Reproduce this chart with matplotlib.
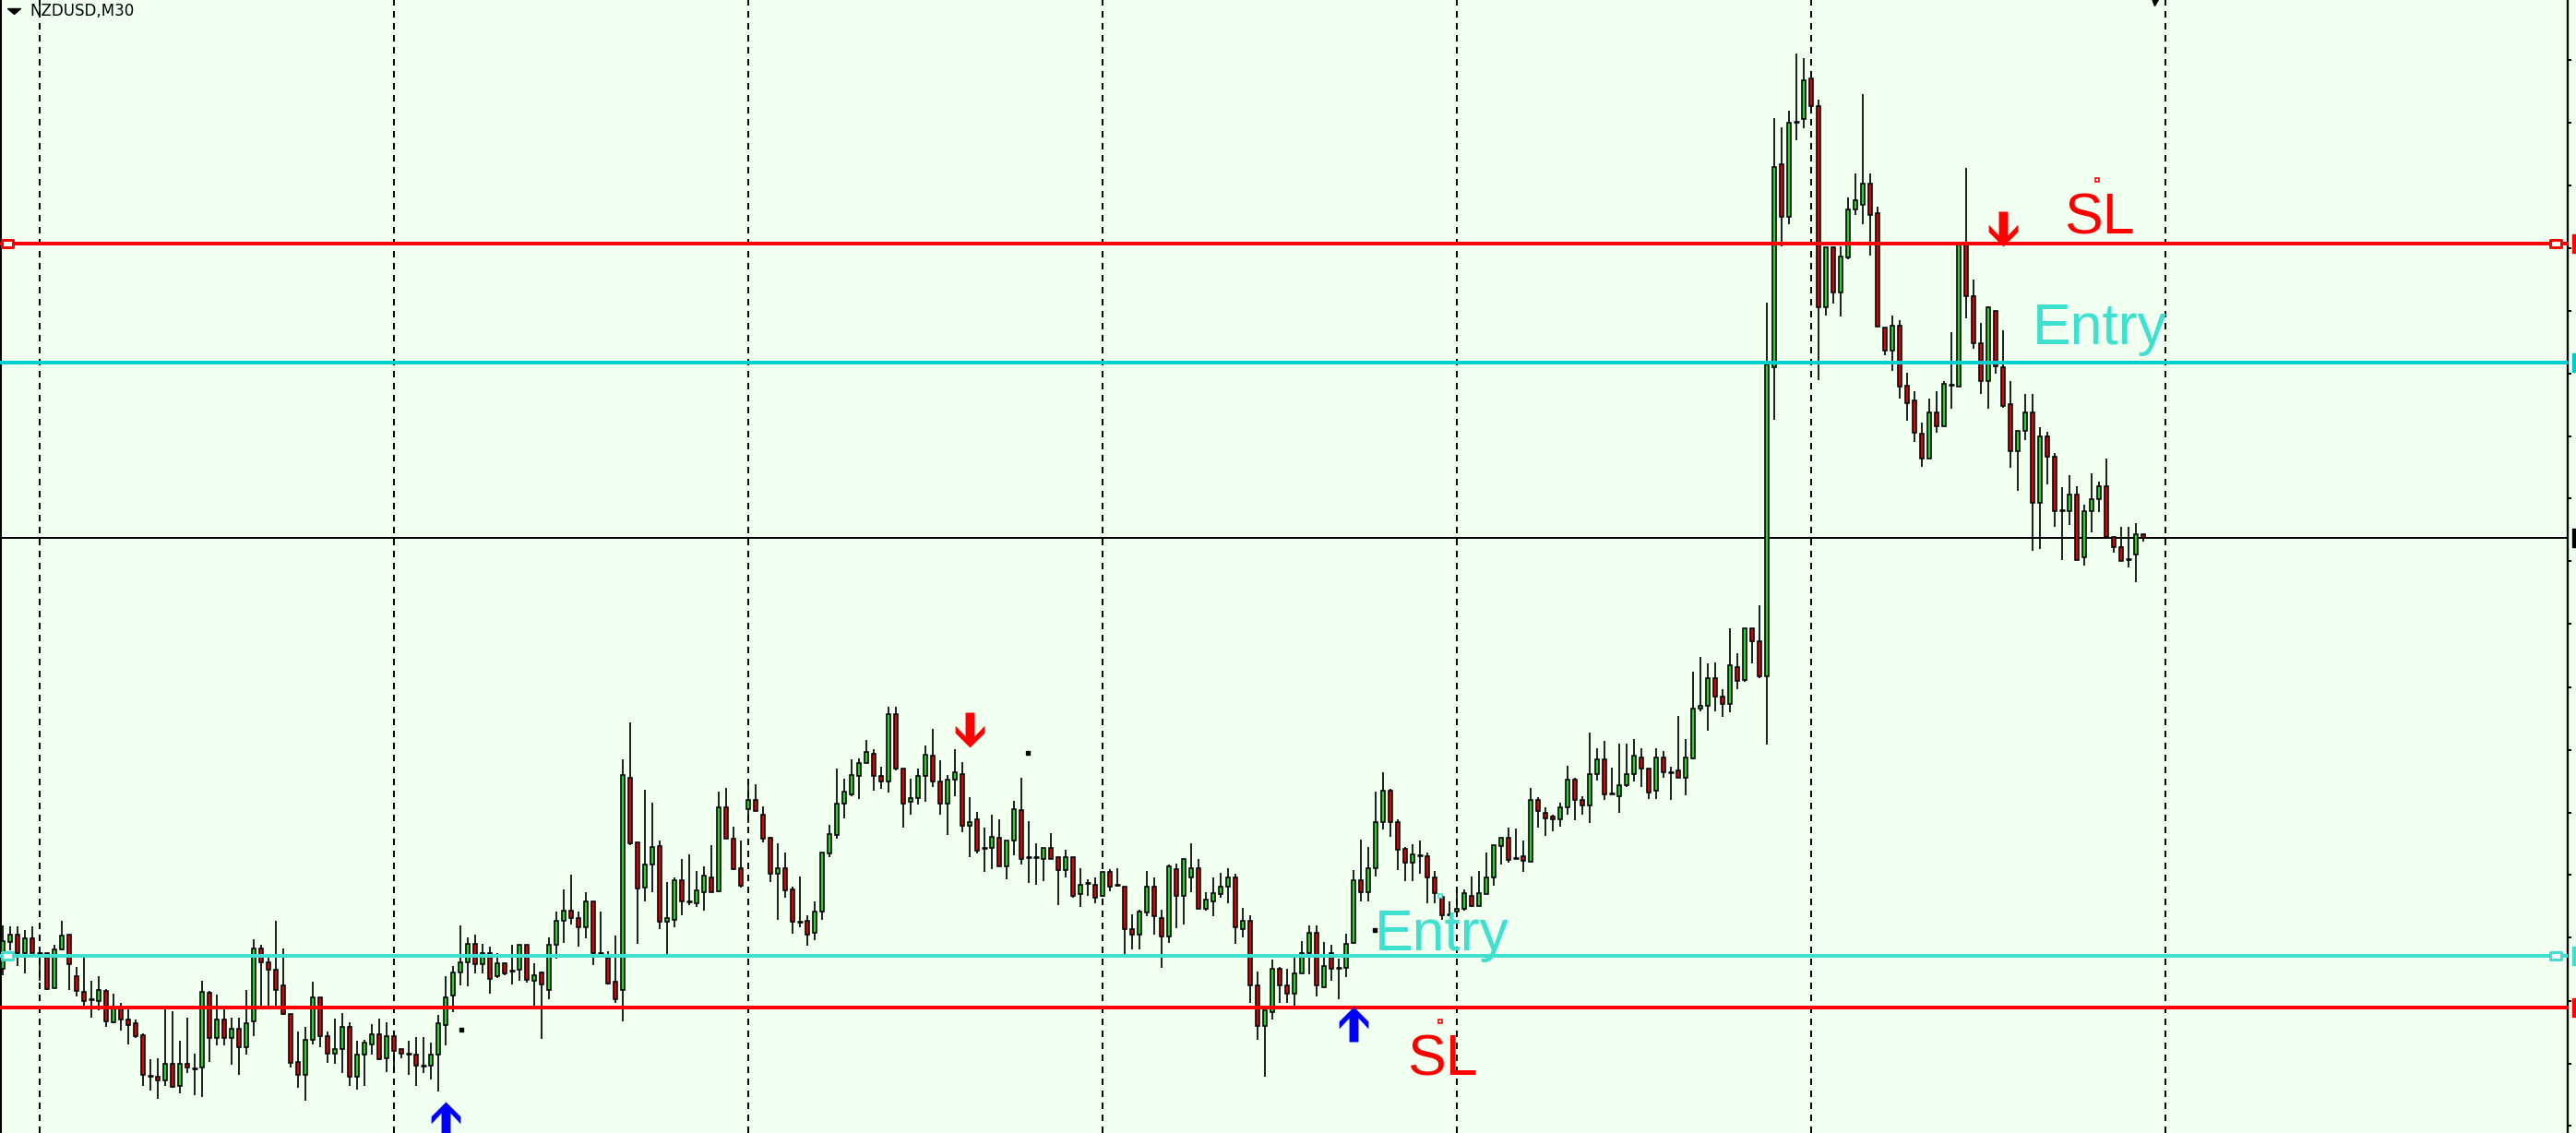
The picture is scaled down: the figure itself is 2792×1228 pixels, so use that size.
"""NZDUSD M30 candlestick chart with SL / Entry levels (MT4 style)."""

import matplotlib

matplotlib.use("Agg")

import matplotlib.pyplot as plt
import numpy as np
from matplotlib.patches import Rectangle
from matplotlib.path import Path

# prices are in points above an arbitrary base (the chart shows no price labels)
OPEN = [
    178, 207, 215, 195, 211, 195, 195, 157, 199, 215, 170, 153, 145, 143, 154, 120, 136, 123, 119, 106,
    62, 61, 57, 75, 51, 75, 70, 71, 152, 103, 123, 103, 113, 93, 121, 200, 185, 177, 160, 129,
    77, 63, 101, 147, 105, 86, 91, 115, 61, 85, 96, 107, 81, 105, 91, 86, 85, 73, 73, 85,
    117, 149, 174, 185, 205, 183, 195, 170, 184, 176, 177, 204, 165, 174, 155, 204, 230, 241, 233, 223,
    251, 195, 190, 164, 155, 385, 315, 266, 291, 311, 229, 231, 274, 251, 249, 261, 277, 262, 353, 319,
    287, 351, 361, 345, 320, 281, 287, 264, 229, 230, 217, 240, 303, 323, 357, 367, 387, 401, 411, 387,
    381, 454, 395, 359, 363, 387, 409, 381, 357, 383, 389, 333, 340, 309, 309, 320, 289, 317, 350, 299,
    299, 297, 309, 299, 285, 299, 259, 271, 269, 257, 283, 269, 267, 221, 215, 239, 267, 233, 213, 286,
    257, 277, 287, 243, 251, 259, 267, 277, 221, 230, 160, 116, 131, 178, 160, 151, 173, 195, 217, 158,
    195, 179, 179, 206, 274, 261, 287, 337, 371, 337, 308, 293, 301, 300, 277, 256, 237, 240, 243, 257,
    246, 259, 277, 311, 320, 298, 300, 294, 361, 347, 343, 340, 353, 383, 361, 355, 389, 405, 368, 365,
    377, 389, 407, 395, 371, 407, 391, 393, 385, 406, 460, 463, 493, 473, 465, 505, 491, 547, 533, 495,
    830, 1050, 993, 1096, 1099, 1143, 1113, 895, 960, 911, 949, 1001, 1006, 1029, 997, 873, 848, 875, 810, 794,
    758, 731, 781, 766, 811, 809, 965, 907, 856, 815, 891, 830, 790, 739, 761, 781, 683, 755, 733, 675,
    674, 692, 624, 674, 687, 701, 646, 635, 622, 627, 649,
]
HIGH = [
    225, 224, 224, 220, 224, 198, 195, 204, 230, 215, 180, 190, 165, 170, 156, 151, 141, 134, 123, 108,
    80, 81, 134, 132, 100, 125, 86, 165, 154, 150, 134, 125, 125, 155, 210, 204, 190, 230, 200, 129,
    110, 115, 164, 147, 110, 124, 130, 120, 100, 101, 118, 124, 120, 105, 91, 100, 104, 104, 98, 128,
    170, 181, 225, 212, 215, 205, 202, 195, 184, 204, 204, 204, 184, 175, 212, 240, 264, 280, 240, 261,
    251, 240, 197, 214, 405, 445, 315, 372, 358, 317, 272, 277, 297, 302, 284, 289, 312, 370, 374, 332,
    317, 381, 378, 354, 321, 314, 304, 267, 278, 236, 251, 304, 334, 395, 384, 405, 406, 426, 416, 397,
    462, 462, 395, 384, 395, 420, 438, 404, 388, 416, 402, 364, 348, 331, 345, 340, 317, 360, 385, 338,
    314, 309, 325, 299, 307, 299, 287, 275, 277, 283, 286, 287, 267, 237, 242, 284, 277, 242, 291, 292,
    297, 314, 297, 261, 277, 282, 287, 281, 244, 236, 175, 133, 188, 180, 178, 190, 208, 225, 225, 207,
    204, 189, 216, 285, 318, 310, 370, 391, 373, 340, 310, 313, 317, 304, 284, 258, 251, 261, 264, 278,
    284, 304, 312, 320, 331, 330, 317, 374, 364, 353, 345, 358, 398, 385, 365, 434, 417, 425, 396, 422,
    422, 427, 417, 395, 417, 414, 397, 452, 427, 500, 516, 509, 510, 481, 547, 520, 547, 547, 572, 900,
    1100, 1090, 1108, 1170, 1165, 1143, 1120, 960, 960, 961, 1014, 1040, 1126, 1040, 1004, 873, 886, 881, 824, 804,
    770, 796, 804, 815, 868, 965, 1046, 925, 878, 896, 891, 870, 815, 761, 801, 801, 765, 760, 737, 700,
    713, 701, 681, 715, 706, 731, 646, 657, 657, 661, 649,
]
LOW = [
    171, 198, 181, 173, 195, 165, 155, 157, 198, 155, 148, 138, 125, 133, 115, 119, 111, 96, 103, 51,
    46, 37, 51, 49, 43, 65, 41, 39, 77, 95, 95, 74, 63, 85, 105, 138, 138, 138, 128, 71,
    49, 35, 96, 93, 76, 75, 65, 51, 47, 51, 85, 79, 66, 65, 81, 63, 51, 65, 58, 45,
    95, 131, 160, 159, 173, 173, 151, 168, 171, 161, 165, 163, 138, 102, 145, 189, 206, 226, 202, 211,
    182, 191, 161, 141, 121, 312, 205, 251, 261, 221, 194, 223, 236, 247, 245, 241, 261, 261, 319, 285,
    266, 336, 349, 315, 272, 231, 255, 216, 223, 203, 209, 231, 299, 319, 341, 365, 362, 401, 371, 373,
    369, 393, 331, 345, 356, 359, 375, 345, 323, 365, 326, 299, 303, 283, 286, 289, 275, 301, 291, 271,
    269, 273, 297, 247, 277, 255, 245, 257, 249, 256, 262, 267, 194, 199, 199, 235, 215, 179, 206, 222,
    226, 261, 243, 241, 235, 255, 249, 205, 212, 141, 101, 61, 123, 141, 141, 138, 173, 172, 148, 157,
    165, 145, 169, 205, 251, 251, 278, 329, 321, 285, 273, 273, 281, 249, 249, 231, 235, 240, 241, 245,
    246, 259, 268, 291, 293, 298, 283, 294, 331, 322, 327, 332, 345, 339, 345, 336, 382, 361, 367, 347,
    375, 381, 375, 362, 362, 385, 361, 385, 366, 405, 457, 436, 457, 451, 456, 481, 489, 509, 493, 421,
    773, 961, 985, 1076, 1089, 1110, 816, 886, 899, 885, 947, 995, 985, 951, 874, 843, 826, 796, 772, 749,
    722, 731, 759, 766, 785, 809, 883, 850, 801, 785, 823, 786, 721, 696, 751, 631, 633, 703, 657, 621,
    659, 621, 615, 651, 673, 646, 629, 620, 613, 597, 641,
]
CLOSE = [
    208, 215, 195, 211, 195, 195, 156, 199, 214, 183, 154, 143, 145, 155, 121, 136, 123, 117, 105, 63,
    62, 57, 75, 50, 75, 71, 70, 153, 103, 123, 103, 113, 93, 119, 200, 185, 177, 155, 129, 76,
    63, 101, 147, 105, 86, 91, 115, 61, 85, 98, 107, 80, 105, 89, 86, 86, 73, 73, 85, 119,
    147, 174, 185, 205, 183, 195, 167, 184, 173, 176, 204, 166, 171, 161, 204, 230, 241, 233, 223, 251,
    195, 195, 162, 145, 388, 314, 265, 291, 310, 229, 233, 274, 251, 251, 263, 279, 261, 353, 319, 286,
    268, 361, 349, 319, 281, 287, 263, 229, 229, 215, 240, 304, 324, 357, 370, 388, 401, 413, 387, 381,
    454, 395, 357, 363, 387, 410, 381, 357, 383, 391, 333, 337, 306, 309, 321, 289, 317, 351, 297, 299,
    299, 309, 297, 285, 299, 257, 269, 271, 255, 283, 267, 269, 221, 215, 240, 267, 235, 213, 289, 257,
    297, 287, 243, 253, 260, 267, 277, 223, 230, 160, 116, 133, 178, 160, 151, 173, 195, 217, 160, 181,
    178, 179, 205, 274, 261, 287, 337, 371, 337, 307, 293, 302, 301, 277, 260, 236, 237, 243, 260, 246,
    260, 277, 312, 320, 296, 298, 295, 361, 349, 341, 340, 353, 383, 361, 355, 389, 405, 367, 368, 377,
    389, 409, 395, 369, 407, 391, 391, 385, 407, 460, 463, 493, 473, 465, 507, 490, 547, 533, 495, 833,
    1047, 993, 1095, 1096, 1141, 1113, 895, 960, 911, 950, 1001, 1011, 1029, 995, 874, 848, 875, 809, 791, 759,
    731, 781, 766, 812, 811, 965, 907, 856, 815, 895, 831, 788, 739, 761, 781, 683, 755, 733, 674, 675,
    692, 621, 674, 687, 701, 646, 635, 620, 622, 649, 645,
]

# bar index where each new trading day starts (dashed separators)
DAY_STARTS = [5, 53, 101, 149, 197, 245, 293]

# horizontal levels: upper SL, upper Entry, current price, lower Entry, lower SL
LEVELS = [964, 835, 645, 192, 136]
LEVEL_COLORS = ["#FF0000", "#00CED1", "#000000", "#40E0D0", "#FF0000"]
LEVEL_SELECTED = [True, False, False, True, False]

# text objects
LABELS = ["SL", "Entry", "Entry", "SL"]
LABEL_X = [284.0, 284.1, 195.0, 195.0]
LABEL_Y = [975, 855, 198, 63]
LABEL_COLORS = ["#FF0000", "#40E0D0", "#40E0D0", "#FF0000"]
ANCHOR_X = [283.75, 194.75, 194.75]
ANCHOR_Y = [1033, 257, 121]
ANCHOR_COLORS = ["#FF0000", "#40E0D0", "#FF0000"]

# signal arrows
ARROW_X = [60, 183, 131, 271]
ARROW_Y = [15, 118, 437, 980]
ARROW_UP = [True, True, False, False]
ARROW_COLORS = ["#0000FF", "#0000FF", "#FF0000", "#FF0000"]

# stray object anchor dots
DOT_X = [62.1, 138.9, 185.9]
DOT_Y = [112, 412, 220]

# right price-scale ticks
TICK_LEVELS = [1163, 1095, 1027, 959, 891, 823, 755, 688, 620, 552, 483, 415, 347, 280, 212, 143, 75, 8]

BG = "#F0FFF0"
BULL = "#22D822"
BEAR = "#E00000"
PX = 72 / 100  # points per pixel at dpi 100
W, H = 2792, 1228
PLOT_W = 2783
BAR_PX = 8


def arrow_path(up: bool) -> Path:
    verts = [(-15, 57.5), (15, 57.5), (15, -20.5), (48, 14.5), (48, -9.5), (0, -57.5),
             (-48, -9.5), (-48, 14.5), (-15, -20.5), (-15, 57.5)]
    if up:
        verts = [(x, -y) for x, y in verts]
    codes = [Path.MOVETO] + [Path.LINETO] * (len(verts) - 2) + [Path.CLOSEPOLY]
    return Path(verts, codes)


def main() -> None:
    fig = plt.figure(figsize=(W / 100, H / 100), dpi=100, facecolor=BG)
    ax = fig.add_axes([0, 0, PLOT_W / W, 1], facecolor=BG)

    o, h, l, c = (np.array(v, dtype=float) for v in (OPEN, HIGH, LOW, CLOSE))
    idx = np.arange(len(o))

    for d in DAY_STARTS:
        ax.axvline(d, color="black", lw=2 * PX, ls=(0, (3.5, 3.0)), zorder=1)

    for level, color, sel in zip(LEVELS, LEVEL_COLORS, LEVEL_SELECTED):
        black = color == "#000000"
        ax.axhline(level, color=color, lw=(2 if black else 4) * PX, zorder=1.5 if black else 4)
        ax.add_patch(Rectangle((1 + 5 / PLOT_W, level - 10), 4 / PLOT_W, 20,
                               transform=ax.get_yaxis_transform(), color=color, clip_on=False, zorder=5))
        if sel:
            rect = Path([(-6, -4), (6, -4), (6, 4), (-6, 4), (-6, -4)],
                        [Path.MOVETO, Path.LINETO, Path.LINETO, Path.LINETO, Path.CLOSEPOLY])
            ax.plot([0.003, 0.9955], [level, level], transform=ax.get_yaxis_transform(), ls="none",
                    marker=rect, ms=12 * PX, mfc="white", mec=color, mew=3 * PX, zorder=5, clip_on=False)

    ax.vlines(idx, l, h, color="black", lw=1.7 * PX, zorder=2)
    up = c > o
    dn = c < o
    flat = c == o
    ax.bar(idx[up], (c - o)[up], bottom=o[up], width=0.6, color=BULL, edgecolor="black",
           linewidth=1.6 * PX, zorder=3)
    ax.bar(idx[dn], (o - c)[dn], bottom=c[dn], width=0.6, color=BEAR, edgecolor="black",
           linewidth=1.6 * PX, zorder=3)
    ax.hlines(o[flat], idx[flat] - 0.38, idx[flat] + 0.38, color="black", lw=2.6 * PX, zorder=3)

    for x, y, is_up, color in zip(ARROW_X, ARROW_Y, ARROW_UP, ARROW_COLORS):
        ax.plot([x], [y], ls="none", marker=arrow_path(is_up), ms=38 * PX, color=color,
                mec=color, mew=0, zorder=6)

    for text, x, y, color in zip(LABELS, LABEL_X, LABEL_Y, LABEL_COLORS):
        ax.text(x, y, text, color=color, fontsize=45, family="Liberation Sans",
                ha="center", va="baseline", zorder=7)
    for x, y, color in zip(ANCHOR_X, ANCHOR_Y, ANCHOR_COLORS):
        ax.plot([x], [y], ls="none", marker="s", ms=5 * PX, mfc="white", mec=color,
                mew=1.6 * PX, zorder=7)

    ax.plot(DOT_X, DOT_Y, ls="none", marker="s", ms=3.5 * PX, color="black", zorder=6)

    # chart title and shift marker
    tri = Path([(-7, 3), (7, 3), (0, -3), (-7, 3)], [Path.MOVETO, Path.LINETO, Path.LINETO, Path.CLOSEPOLY])
    ax.plot([15 / PLOT_W], [1 - 12 / H], transform=ax.transAxes, ls="none", marker=tri,
            ms=14 * PX, color="black", zorder=8)
    ax.text(32 / PLOT_W, 1 - 17 / H, "NZDUSD,M30", transform=ax.transAxes, fontsize=12,
            family="DejaVu Sans", color="black", ha="left", va="baseline", zorder=8)
    ax.plot([2335 / PLOT_W], [1 - 2 / H], transform=ax.transAxes, ls="none", marker="v",
            ms=7 * PX, color="black", zorder=8, clip_on=False)

    ax.set_xlim(-3 / BAR_PX, -3 / BAR_PX + PLOT_W / BAR_PX)
    ax.set_ylim(0, H)
    ax.set_xticks([])
    ax.set_yticks(TICK_LEVELS)
    ax.yaxis.tick_right()
    ax.tick_params(axis="y", direction="out", length=4 * PX, width=2 * PX, labelright=False,
                   right=True, left=False, color="black")
    for side in ("top", "bottom"):
        ax.spines[side].set_visible(False)
    ax.spines["left"].set_linewidth(4 * PX)
    ax.spines["right"].set_linewidth(2.3 * PX)

    fig.savefig("out.png", dpi=100, facecolor=BG)
    plt.close(fig)


if __name__ == "__main__":
    main()
